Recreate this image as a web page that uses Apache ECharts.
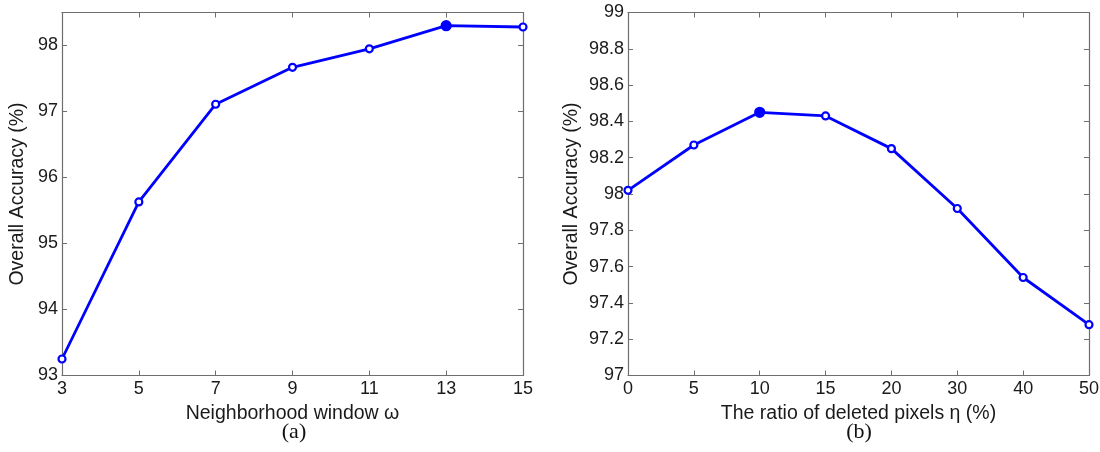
<!DOCTYPE html>
<html>
<head>
<meta charset="utf-8">
<script src="https://cdn.jsdelivr.net/npm/echarts@6/dist/echarts.min.js"></script>
<style>
  html, body { margin: 0; padding: 0; background: #fff; }
  #chart { width: 1100px; height: 452px; }
</style>
</head>
<body>
<div id="chart"></div>
<script>
// (a) neighborhood window
var windowSizes = [3, 5, 7, 9, 11, 13, 15];
var accWindow = [93.25, 95.63, 97.11, 97.67, 97.95, 98.30, 98.28];
var bestWindowIdx = 5;

// (b) ratio of deleted pixels
var ratioLabels = ['0', '5', '10', '15', '20', '30', '40', '50'];
var accRatio = [98.02, 98.27, 98.45, 98.43, 98.25, 97.92, 97.54, 97.28];
var bestRatioIdx = 2;

var blue = '#0000ff';
var axisGray = '#6e6e6e';
var font = 'Liberation Sans, Arial, sans-serif';
var serif = 'Liberation Serif, Times New Roman, serif';

function markData(xs, ys, best) {
  return ys.map(function(v, i) {
    var d = { value: xs ? [xs[i], v] : v };
    if (i === best) {
      d.itemStyle = { color: blue, borderColor: blue };
      d.symbolSize = 9;
    }
    return d;
  });
}

function axisLine() {
  return { show: true, onZero: false, lineStyle: { color: axisGray, width: 1.2 } };
}
function tick() {
  return { show: true, inside: true, length: 5, lineStyle: { color: axisGray, width: 1 } };
}
function lbl(margin) {
  return { color: '#1a1a1a', fontSize: 18, fontFamily: font, margin: margin };
}
var nameStyle = { color: '#1a1a1a', fontSize: 19.5, fontFamily: font };

var chart = echarts.init(document.getElementById('chart'));

var option = {
  animation: false,
  backgroundColor: '#fff',
  grid: [
    { left: 62, top: 12.5, width: 461, height: 363, outerBoundsMode: 'none', containLabel: false },
    { left: 628, top: 12.5, width: 461, height: 363, outerBoundsMode: 'none', containLabel: false }
  ],
  xAxis: [
    {
      gridIndex: 0, type: 'value', min: 3, max: 15, interval: 2,
      name: 'Neighborhood window \u03c9', nameLocation: 'middle', nameGap: 25, nameTextStyle: nameStyle,
      axisLine: axisLine(), axisTick: tick(), axisLabel: lbl(5), splitLine: { show: false }
    },
    {
      gridIndex: 0, type: 'value', min: 3, max: 15, interval: 2, position: 'top',
      axisLine: axisLine(), axisTick: tick(), axisLabel: { show: false }, splitLine: { show: false }
    },
    {
      gridIndex: 1, type: 'category', data: ratioLabels, boundaryGap: false,
      name: 'The ratio of deleted pixels \u03b7 (%)', nameLocation: 'middle', nameGap: 25, nameTextStyle: nameStyle,
      axisLine: axisLine(), axisTick: Object.assign(tick(), { alignWithLabel: true }), axisLabel: Object.assign(lbl(5), { interval: 0 }), splitLine: { show: false }
    },
    {
      gridIndex: 1, type: 'category', data: ratioLabels, boundaryGap: false, position: 'top',
      axisLine: axisLine(), axisTick: tick(), axisLabel: { show: false }, splitLine: { show: false }
    }
  ],
  yAxis: [
    {
      gridIndex: 0, type: 'value', min: 93, max: 98.5, interval: 1,
      name: 'Overall Accuracy (%)', nameLocation: 'middle', nameGap: 34, nameTextStyle: nameStyle,
      axisLine: axisLine(), axisTick: tick(), axisLabel: Object.assign(lbl(4), { showMaxLabel: false }), splitLine: { show: false }
    },
    {
      gridIndex: 0, type: 'value', min: 93, max: 98.5, interval: 1, position: 'right',
      axisLine: axisLine(), axisTick: tick(), axisLabel: { show: false }, splitLine: { show: false }
    },
    {
      gridIndex: 1, type: 'value', min: 97, max: 99, interval: 0.2,
      name: 'Overall Accuracy (%)', nameLocation: 'middle', nameGap: 46, nameTextStyle: nameStyle,
      axisLine: axisLine(), axisTick: tick(),
      axisLabel: Object.assign(lbl(4), { formatter: function(v) { return +v.toFixed(1) + ''; } }),
      splitLine: { show: false }
    },
    {
      gridIndex: 1, type: 'value', min: 97, max: 99, interval: 0.2, position: 'right',
      axisLine: axisLine(), axisTick: tick(), axisLabel: { show: false }, splitLine: { show: false }
    }
  ],
  series: [
    {
      type: 'line', xAxisIndex: 0, yAxisIndex: 0,
      data: markData(windowSizes, accWindow, bestWindowIdx),
      symbol: 'circle', symbolSize: 7,
      lineStyle: { color: blue, width: 2.8 },
      itemStyle: { color: '#fff', borderColor: blue, borderWidth: 2.2 }
    },
    {
      type: 'line', xAxisIndex: 2, yAxisIndex: 2,
      data: markData(null, accRatio, bestRatioIdx),
      symbol: 'circle', symbolSize: 7,
      lineStyle: { color: blue, width: 2.8 },
      itemStyle: { color: '#fff', borderColor: blue, borderWidth: 2.2 }
    }
  ],
  graphic: [
    { type: 'text', x: 294, y: 432, style: { text: '(a)', fontSize: 22, fontFamily: serif, fill: '#111', textAlign: 'center', textVerticalAlign: 'middle' } },
    { type: 'text', x: 859, y: 432, style: { text: '(b)', fontSize: 22, fontFamily: serif, fill: '#111', textAlign: 'center', textVerticalAlign: 'middle' } }
  ]
};

chart.setOption(option);
</script>
</body>
</html>
